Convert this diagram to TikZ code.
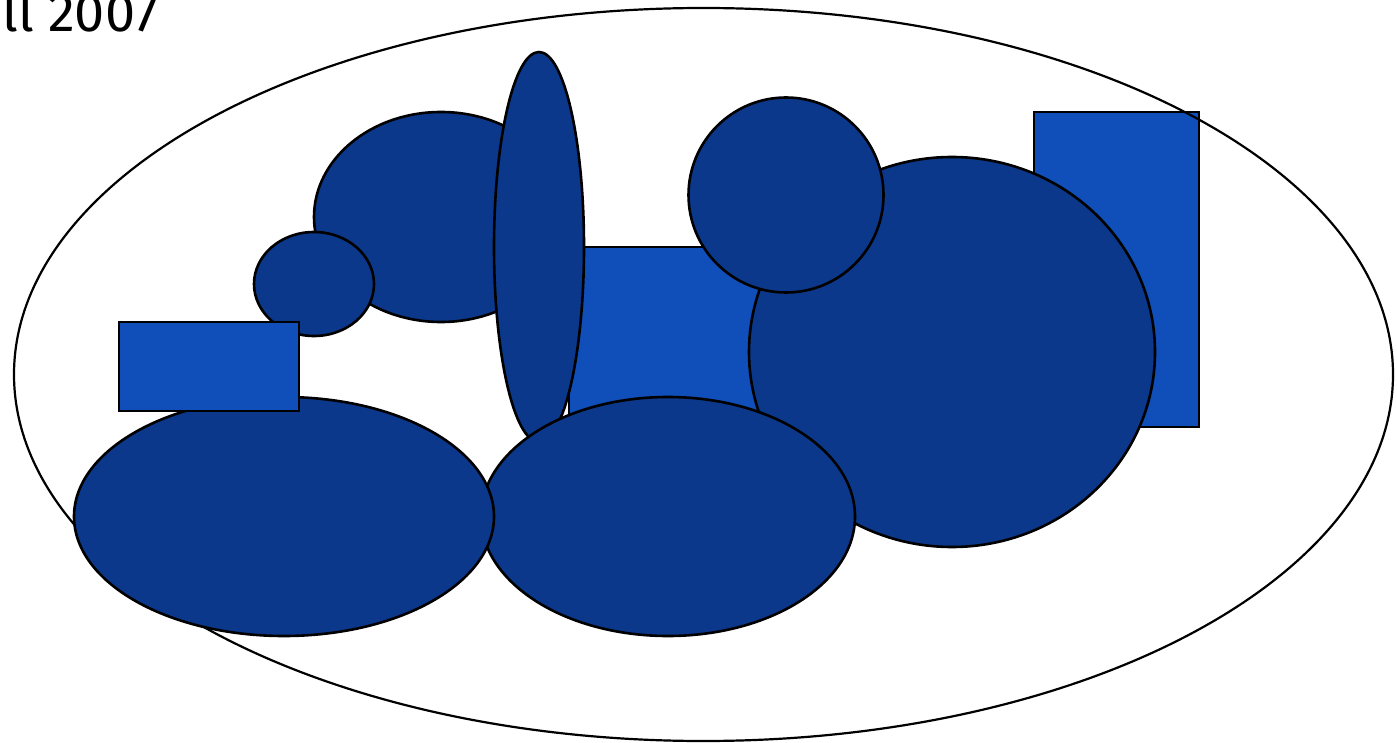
\documentclass[tikz,border=0pt]{standalone}
\usepackage{fontspec}
\setmainfont{Fira Sans}
\begin{document}
\begin{tikzpicture}[x=1pt,y=-1pt,
  shp/.style={draw=black,line width=2.6pt},
  dark/.style={shp,fill=darkblue},
  light/.style={shp,fill=lightblue}]
\definecolor{darkblue}{RGB}{12,56,139}
\definecolor{lightblue}{RGB}{16,78,185}
\useasboundingbox (0,0) rectangle (1397,743);
% right rectangle (under outer outline)
\path[light] (1034,112) rectangle (1199,427);
% outer ellipse
\draw[line width=2.2pt] (703.5,374.5) ellipse [x radius=689.5, y radius=366.5];
% middle rectangle
\path[light] (569,247) rectangle (780,430);
% big circle
\path[dark] (952,352) ellipse [x radius=203, y radius=195];
% top circle
\path[dark] (786,195) ellipse [x radius=97.5, y radius=97.5];
% top-left ellipse
\path[dark] (441,217) ellipse [x radius=127, y radius=105];
% small circle
\path[dark] (314,284) ellipse [x radius=60, y radius=52];
% tall ellipse
\path[dark] (539,247) ellipse [x radius=45, y radius=195];
% bottom-middle ellipse
\path[dark] (668,516.5) ellipse [x radius=187, y radius=119.5];
% bottom-left ellipse
\path[dark] (284,516.5) ellipse [x radius=210, y radius=119.5];
% left rectangle
\path[light] (119,322) rectangle (299,411);
\node[anchor=base west,inner sep=0pt,font=\fontsize{54}{58}\selectfont] (lbl) at (2,32) {ll 2007};
\end{tikzpicture}
\end{document}
